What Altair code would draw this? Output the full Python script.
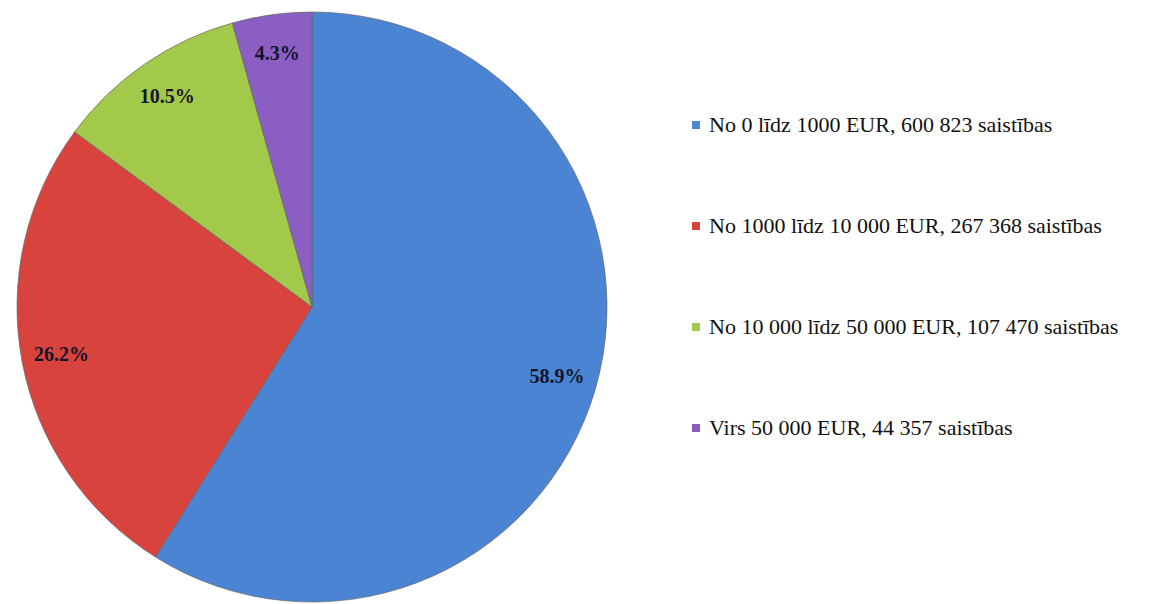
import altair as alt
import pandas as pd

categories = [
    "No 0 līdz 1000 EUR, 600 823 saistības",
    "No 1000 līdz 10 000 EUR, 267 368 saistības",
    "No 10 000 līdz 50 000 EUR, 107 470 saistības",
    "Virs 50 000 EUR, 44 357 saistības",
]
values = [600823, 267368, 107470, 44357]
pct_labels = ["58.9%", "26.2%", "10.5%", "4.3%"]
colors = ["#4a84d2", "#d8433e", "#a2c94a", "#8b5ec4"]

df = pd.DataFrame({
    "cat": categories,
    "value": values,
    "label": pct_labels,
    "order": list(range(len(categories))),
})

base = alt.Chart(df).encode(
    theta=alt.Theta("value:Q", stack=True),
    order=alt.Order("order:O"),
)

arcs = base.mark_arc(outerRadius=295, stroke="#666666", strokeWidth=0.7).encode(
    color=alt.Color(
        "cat:N",
        scale=alt.Scale(domain=categories, range=colors),
        sort=categories,
        legend=alt.Legend(
            title=None,
            orient="none",
            legendX=677,
            legendY=106,
            symbolType="square",
            symbolSize=64,
            symbolStrokeWidth=0,
            labelFont="Liberation Serif",
            labelFontSize=22,
            labelColor="#111111",
            labelLimit=0,
            rowPadding=79,
            labelOffset=2,
        ),
    )
)

text = base.mark_text(
    radius=255,
    font="Liberation Serif",
    fontSize=20,
    fontWeight="bold",
    color="#141428",
).encode(text="label:N")

chart = (arcs + text).properties(
    width=608,
    height=598,
    padding={"left": 0, "top": 0, "right": 0, "bottom": 0},
).configure_view(stroke=None).configure(background="white")

chart.save("out.html", embed_options={"renderer": "svg", "actions": False})
